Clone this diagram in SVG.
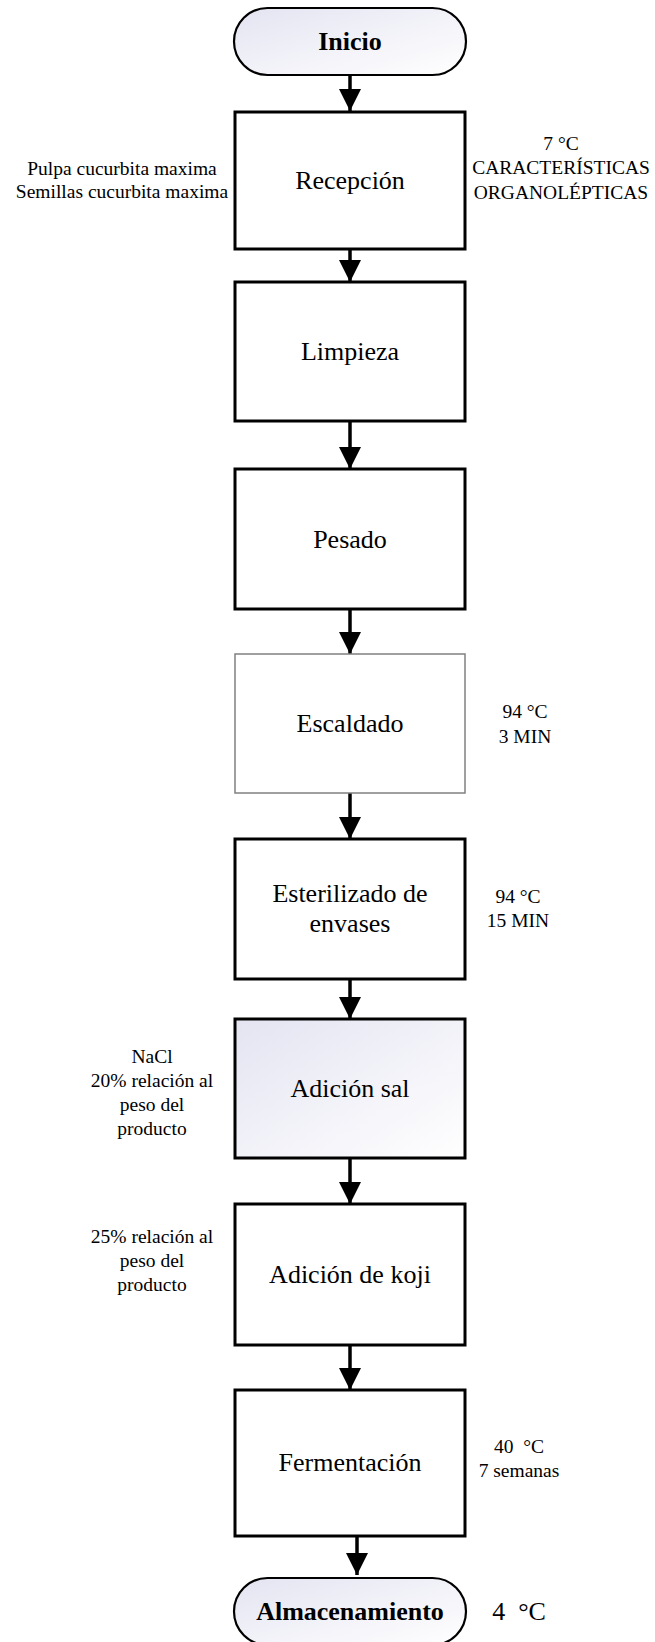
<svg xmlns="http://www.w3.org/2000/svg" width="655" height="1642" viewBox="0 0 655 1642">
<defs>
<linearGradient id="g" x1="0" y1="0" x2="1" y2="1">
<stop offset="0" stop-color="#e4e4f2"/>
<stop offset="1" stop-color="#ffffff"/>
</linearGradient>
<marker id="ah" markerUnits="userSpaceOnUse" markerWidth="24" markerHeight="24" refX="22" refY="11" orient="auto">
<path d="M0,0 L22,11 L0,22 Z" fill="#000"/>
</marker>
</defs>
<style>
.box{fill:#fff;stroke:#000;stroke-width:3}
.term{fill:url(#g);stroke:#000;stroke-width:2.2}
.lbl{font-family:"Liberation Serif","Times New Roman",serif;font-size:26px;text-anchor:middle;fill:#000}
.tl{font-family:"Liberation Serif","Times New Roman",serif;font-size:26px;font-weight:bold;text-anchor:middle;fill:#000}
.side{font-family:"Liberation Serif","Times New Roman",serif;font-size:19.5px;text-anchor:middle;fill:#000}
.con{stroke:#000;stroke-width:3.5;fill:none;marker-end:url(#ah)}
</style>
<g id="connectors">
<line class="con" x1="350" y1="75" x2="350" y2="111"/>
<line class="con" x1="350" y1="249" x2="350" y2="282"/>
<line class="con" x1="350" y1="421" x2="350" y2="469"/>
<line class="con" x1="350" y1="609" x2="350" y2="654"/>
<line class="con" x1="350" y1="793" x2="350" y2="839"/>
<line class="con" x1="350" y1="979" x2="350" y2="1019"/>
<line class="con" x1="350" y1="1158" x2="350" y2="1204"/>
<line class="con" x1="350" y1="1345" x2="350" y2="1390"/>
<line class="con" x1="357" y1="1536" x2="357" y2="1575"/>
</g>
<g id="inicio">
<rect class="term" x="234" y="8" width="232" height="67" rx="33.5" ry="33.5"/>
<text class="tl" x="350" y="50">Inicio</text>
</g>
<g id="recepcion">
<rect class="box" x="235" y="112" width="230" height="137"/>
<text class="lbl" x="350" y="189">Recepción</text>
</g>
<g id="recepcion-in">
<text class="side" x="122" y="175">Pulpa cucurbita maxima</text>
<text class="side" x="122" y="198">Semillas cucurbita maxima</text>
</g>
<g id="recepcion-out">
<text class="side" x="561" y="150">7 °C</text>
<text class="side" x="561" y="174">CARACTERÍSTICAS</text>
<text class="side" x="561" y="199">ORGANOLÉPTICAS</text>
</g>
<g id="limpieza">
<rect class="box" x="235" y="282" width="230" height="139"/>
<text class="lbl" x="350" y="360">Limpieza</text>
</g>
<g id="pesado">
<rect class="box" x="235" y="469" width="230" height="140"/>
<text class="lbl" x="350" y="548">Pesado</text>
</g>
<g id="escaldado">
<rect x="235" y="654" width="230" height="139" fill="#fff" stroke="#808080" stroke-width="1.5"/>
<text class="lbl" x="350" y="732">Escaldado</text>
</g>
<g id="escaldado-side">
<text class="side" x="525" y="718">94 °C</text>
<text class="side" x="525" y="743">3 MIN</text>
</g>
<g id="esterilizado">
<rect class="box" x="235" y="839" width="230" height="140"/>
<text class="lbl" x="350" y="902">Esterilizado de</text>
<text class="lbl" x="350" y="932">envases</text>
</g>
<g id="esterilizado-side">
<text class="side" x="518" y="903">94 °C</text>
<text class="side" x="518" y="927">15 MIN</text>
</g>
<g id="sal">
<rect x="235" y="1019" width="230" height="139" fill="url(#g)" stroke="#000" stroke-width="3"/>
<text class="lbl" x="350" y="1097">Adición sal</text>
</g>
<g id="sal-side">
<text class="side" x="152" y="1063">NaCl</text>
<text class="side" x="152" y="1087">20% relación al</text>
<text class="side" x="152" y="1111">peso del</text>
<text class="side" x="152" y="1135">producto</text>
</g>
<g id="koji">
<rect class="box" x="235" y="1204" width="230" height="141"/>
<text class="lbl" x="350" y="1283">Adición de koji</text>
</g>
<g id="koji-side">
<text class="side" x="152" y="1243">25% relación al</text>
<text class="side" x="152" y="1267">peso del</text>
<text class="side" x="152" y="1291">producto</text>
</g>
<g id="fermentacion">
<rect class="box" x="235" y="1390" width="230" height="146"/>
<text class="lbl" x="350" y="1471">Fermentación</text>
</g>
<g id="fermentacion-side">
<text class="side" x="519" y="1453" xml:space="preserve">40  °C</text>
<text class="side" x="519" y="1477">7 semanas</text>
</g>
<g id="almacenamiento">
<rect class="term" x="234" y="1578" width="232" height="67" rx="33.5" ry="33.5"/>
<text class="tl" x="350" y="1620">Almacenamiento</text>
</g>
<g id="almacenamiento-side">
<text class="lbl" x="519" y="1620" xml:space="preserve">4  °C</text>
</g>
</svg>
